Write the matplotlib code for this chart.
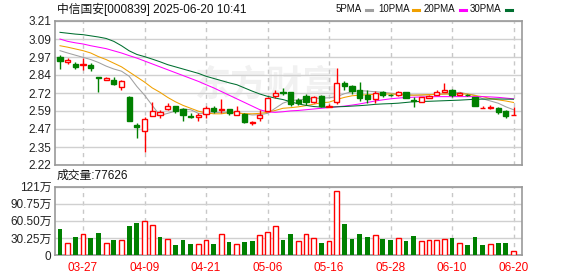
import matplotlib
matplotlib.use('Agg')
import matplotlib.pyplot as plt
from matplotlib.lines import Line2D
import numpy as np

plt.rcParams['font.family'] = ['Liberation Sans', 'Noto Sans CJK SC']

# ==================== DATA ====================
dates = ['03-24', '03-25', '03-26', '03-27', '03-28', '03-31',
         '04-01', '04-02', '04-03', '04-07', '04-08', '04-09', '04-10', '04-11',
         '04-14', '04-15', '04-16', '04-17', '04-18', '04-21', '04-22', '04-23',
         '04-24', '04-25', '04-28', '04-29', '04-30',
         '05-06', '05-07', '05-08', '05-09', '05-12', '05-13', '05-14', '05-15',
         '05-16', '05-19', '05-20', '05-21', '05-22', '05-23', '05-26', '05-27',
         '05-28', '05-29', '05-30',
         '06-03', '06-04', '06-05', '06-06', '06-09', '06-10', '06-11', '06-12',
         '06-13', '06-16', '06-17', '06-18', '06-19', '06-20']
label_dates = ['03-27', '04-09', '04-21', '05-06', '05-16', '05-28', '06-10', '06-20']

opens = [2.960, 2.926, 2.915, 2.906, 2.908, 2.822, 2.805, 2.803, 2.757, 2.689,
         2.493, 2.454, 2.559, 2.564, 2.607, 2.623, 2.602, 2.559, 2.552, 2.568,
         2.614, 2.598, 2.602, 2.566, 2.568, 2.509, 2.543, 2.591, 2.694, 2.721,
         2.720, 2.669, 2.692, 2.650, 2.692, 2.622, 2.651, 2.784, 2.762, 2.739,
         2.698, 2.671, 2.724, 2.702, 2.701, 2.720, 2.669, 2.655, 2.680, 2.703,
         2.720, 2.738, 2.701, 2.702, 2.685, 2.609, 2.612, 2.610, 2.589, 2.563]
closes = [2.933, 2.940, 2.894, 2.915, 2.885, 2.815, 2.818, 2.780, 2.798, 2.523,
          2.479, 2.534, 2.589, 2.582, 2.625, 2.591, 2.561, 2.552, 2.561, 2.609,
          2.589, 2.607, 2.575, 2.591, 2.518, 2.518, 2.561, 2.682, 2.717, 2.716,
          2.639, 2.646, 2.650, 2.685, 2.628, 2.625, 2.784, 2.762, 2.728, 2.682,
          2.671, 2.717, 2.701, 2.700, 2.720, 2.680, 2.662, 2.685, 2.696, 2.720,
          2.736, 2.701, 2.715, 2.700, 2.628, 2.610, 2.622, 2.587, 2.555, 2.564]
highs = [2.978, 2.956, 2.926, 2.956, 2.921, 2.826, 2.823, 2.823, 2.807, 2.694,
         2.511, 2.552, 2.653, 2.598, 2.643, 2.625, 2.614, 2.575, 2.579, 2.625,
         2.625, 2.671, 2.607, 2.625, 2.575, 2.520, 2.598, 2.689, 2.739, 2.747,
         2.725, 2.678, 2.708, 2.692, 2.700, 2.638, 2.890, 2.796, 2.769, 2.791,
         2.735, 2.728, 2.731, 2.705, 2.728, 2.725, 2.685, 2.687, 2.700, 2.738,
         2.784, 2.742, 2.722, 2.705, 2.690, 2.628, 2.630, 2.616, 2.596, 2.616]
lows = [2.883, 2.911, 2.883, 2.871, 2.864, 2.721, 2.803, 2.771, 2.735, 2.520,
        2.404, 2.311, 2.559, 2.543, 2.598, 2.575, 2.522, 2.541, 2.522, 2.545,
        2.575, 2.575, 2.566, 2.561, 2.511, 2.497, 2.522, 2.591, 2.678, 2.701,
        2.627, 2.634, 2.634, 2.643, 2.620, 2.621, 2.640, 2.734, 2.705, 2.660,
        2.648, 2.648, 2.687, 2.697, 2.694, 2.678, 2.617, 2.653, 2.678, 2.700,
        2.720, 2.688, 2.698, 2.697, 2.628, 2.609, 2.605, 2.571, 2.541, 2.563]

ma5 = [3.006, 2.990, 2.975, 2.960, 2.945, 2.925, 2.900, 2.880, 2.865, 2.830,
       2.760, 2.700, 2.630, 2.560, 2.575, 2.590, 2.605, 2.600, 2.575, 2.575,
       2.580, 2.582, 2.582, 2.578, 2.572, 2.564, 2.566, 2.575, 2.610, 2.645,
       2.663, 2.668, 2.673, 2.677, 2.680, 2.682, 2.690, 2.710, 2.725, 2.731,
       2.728, 2.724, 2.720, 2.714, 2.708, 2.705, 2.700, 2.700, 2.703, 2.706,
       2.708, 2.712, 2.720, 2.708, 2.700, 2.675, 2.660, 2.645, 2.620, 2.600]
ma10 = [3.040, 3.030, 3.018, 3.006, 2.990, 2.965, 2.945, 2.920, 2.895, 2.860,
        2.825, 2.790, 2.750, 2.720, 2.685, 2.655, 2.630, 2.610, 2.590, 2.578,
        2.572, 2.572, 2.580, 2.578, 2.573, 2.572, 2.575, 2.582, 2.595, 2.610,
        2.614, 2.620, 2.628, 2.638, 2.648, 2.652, 2.670, 2.685, 2.696, 2.700,
        2.703, 2.706, 2.708, 2.708, 2.705, 2.700, 2.700, 2.702, 2.704, 2.706,
        2.708, 2.708, 2.708, 2.708, 2.697, 2.690, 2.676, 2.668, 2.660, 2.650]
ma20 = [3.086, 3.070, 3.060, 3.052, 3.040, 3.030, 3.020, 3.005, 2.990, 2.972,
        2.955, 2.935, 2.915, 2.895, 2.875, 2.855, 2.835, 2.815, 2.795, 2.772,
        2.750, 2.725, 2.700, 2.675, 2.650, 2.625, 2.600, 2.585, 2.582, 2.586,
        2.592, 2.595, 2.600, 2.605, 2.610, 2.615, 2.620, 2.625, 2.632, 2.640,
        2.650, 2.660, 2.668, 2.675, 2.680, 2.684, 2.686, 2.688, 2.689, 2.690,
        2.690, 2.690, 2.690, 2.690, 2.690, 2.690, 2.688, 2.685, 2.680, 2.675]
ma30 = [3.132, 3.126, 3.120, 3.116, 3.108, 3.100, 3.090, 3.070, 3.040, 3.005,
        2.980, 2.965, 2.948, 2.930, 2.910, 2.895, 2.880, 2.865, 2.850, 2.830,
        2.815, 2.800, 2.785, 2.772, 2.750, 2.728, 2.708, 2.692, 2.680, 2.670,
        2.655, 2.640, 2.630, 2.622, 2.618, 2.618, 2.620, 2.622, 2.625, 2.628,
        2.632, 2.637, 2.640, 2.642, 2.645, 2.650, 2.655, 2.657, 2.658, 2.660,
        2.662, 2.664, 2.666, 2.669, 2.672, 2.673, 2.674, 2.674, 2.673, 2.672]

# volume in 万手
volume = [46.1, 21.3, 31.9, 37.2, 30.1, 39.6, 21.3, 26.6, 26.6, 51.4,
          56.7, 60.3, 53.2, 31.9, 27.8, 17.7, 26.6, 19.5, 19.5, 26.6,
          19.5, 37.2, 23.0, 19.5, 23.0, 24.8, 35.4, 40.2, 50.8, 26.6,
          37.2, 24.2, 37.2, 29.5, 21.3, 24.2, 113.4, 55.5, 28.4, 37.2,
          31.9, 34.9, 28.4, 26.6, 29.5, 24.8, 33.7, 24.2, 26.0, 26.0,
          27.8, 30.1, 21.3, 17.7, 31.9, 17.7, 19.5, 21.3, 21.3, 7.76]
vol_up = [0, 1, 0, 1, 0, 0, 1, 0, 1, 0, 0, 1, 1, 0, 1, 0, 0, 0, 1, 1,
          0, 1, 0, 1, 0, 0, 1, 1, 1, 0, 0, 1, 1, 1, 0, 1, 1, 0, 0, 0,
          0, 1, 0, 0, 1, 0, 0, 1, 1, 1, 1, 0, 1, 0, 0, 0, 1, 0, 0, 1]

price_ticks = ['2.22', '2.35', '2.47', '2.59', '2.72', '2.84', '2.97', '3.09', '3.21']
vol_ticks = ['0', '30.25万', '60.50万', '90.75万', '121万']
leg_names = ['5PMA', '10PMA', '20PMA', '30PMA']

RED = '#ff0000'
GREEN = '#008000'
MA_COLORS = ['#a0a0a0', '#f0a000', '#ff00ff', '#006f30']
FRAME = '#999999'

# ==================== FIGURE ====================
W, H = 578, 276
fig = plt.figure(figsize=(W / 100, H / 100), dpi=100)
ax = fig.add_axes([55 / W, 1 - 165 / H, (522 - 55) / W, (165 - 21) / H])
axv = fig.add_axes([55 / W, 1 - 255 / H, (522 - 55) / W, (255 - 186.7) / H])

x = np.arange(len(dates))
xlim = (-0.65, 60.1)
label_idx = [dates.index(d) for d in label_dates]

# faint watermark
ax.text(27, 2.77, '东方财富', fontsize=26, color='#f1f1f1', ha='center', va='center',
        family=['Noto Sans CJK SC'], fontweight='bold', zorder=0)

# moving averages
for ma, col in zip([ma5, ma10, ma20, ma30], MA_COLORS):
    ax.plot(x, ma, color=col, lw=0.75, zorder=2)

# candles
o = np.array(opens)
c = np.array(closes)
up = c >= o
bottom = np.minimum(o, c)
height = np.maximum(np.abs(c - o), 0.0015)
for i in range(len(x)):
    col = RED if up[i] else GREEN
    ax.vlines(x[i], lows[i], highs[i], color=col, lw=1.0, zorder=3)
    ax.bar(x[i], height[i], bottom=bottom[i], width=0.68,
           facecolor='white' if up[i] else GREEN, edgecolor=col, lw=1.0, zorder=4)

ax.set_xlim(*xlim)
ax.set_ylim(2.22, 3.21)
ax.set_yticks(np.linspace(2.22, 3.21, 9))
ax.set_yticklabels(price_ticks)
ax.set_xticks(label_idx)
ax.set_xticklabels([])

# volume bars
vu = np.array(vol_up, dtype=bool)
vol = np.array(volume)
axv.bar(x[vu], vol[vu], width=0.62, facecolor='white', edgecolor=RED, lw=1.0, zorder=3)
axv.bar(x[~vu], vol[~vu], width=0.62, color=GREEN, lw=0, zorder=3)
axv.set_xlim(*xlim)
axv.set_ylim(0, 121)
axv.set_yticks(np.linspace(0, 121, 5))
axv.set_yticklabels(vol_ticks)
axv.set_xticks(label_idx)
axv.set_xticklabels(label_dates, color=RED)

for a in (ax, axv):
    a.grid(axis='y', color='#d0d0d0', lw=1.0, zorder=0)
    a.grid(axis='x', color='#c8c8c8', lw=1.0, ls=(0, (3, 3)), zorder=0)
    a.set_axisbelow(True)
    a.tick_params(length=0, labelsize=8.5, pad=2.5, colors='#222222')
    for s in a.spines.values():
        s.set_color(FRAME)
        s.set_linewidth(1.2)
axv.tick_params(axis='x', labelsize=8.5, pad=5, labelcolor=RED)

# header texts
fig.text(57 / W, 1 - 9 / H, '中信国安[000839] 2025-06-20 10:41', fontsize=8.5,
         ha='left', va='center', color='#111111')
fig.text(57 / W, 1 - 176 / H, '成交量:77626', fontsize=8.5, ha='left', va='center',
         color='#111111')

# legend: text then a short colour dash
leg_text_x = [336, 378, 424, 470]
leg_dash_x = [366, 413, 460, 506]
for name, tx, dx, col in zip(leg_names, leg_text_x, leg_dash_x, MA_COLORS):
    fig.text(tx / W, 1 - 9 / H, name, fontsize=7, ha='left', va='center', color='#111111')
    fig.add_artist(Line2D([dx / W, (dx + 6) / W], [1 - 10 / H, 1 - 10 / H],
                          color=col, lw=2.2, transform=fig.transFigure))

fig.savefig('out.png', dpi=100)
